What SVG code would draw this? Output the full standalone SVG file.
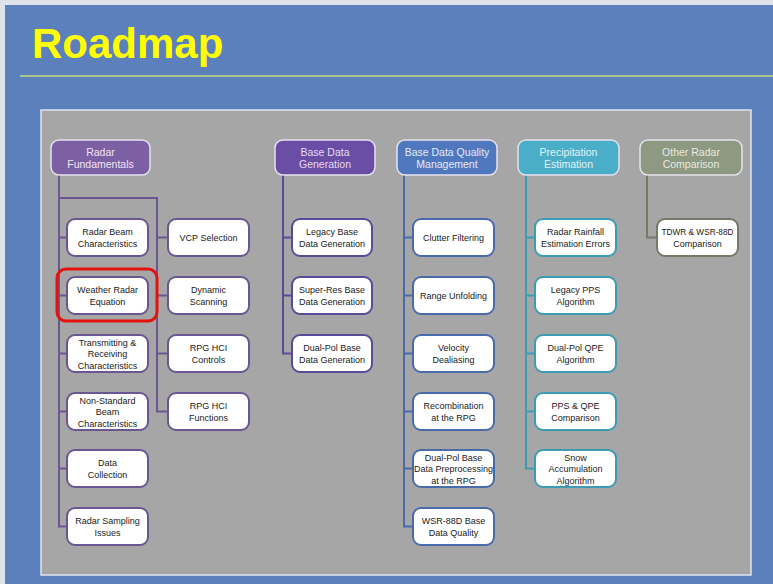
<svg xmlns="http://www.w3.org/2000/svg" width="773" height="584" viewBox="0 0 773 584">
<style>
.hdr{stroke:#e6e2ee;stroke-width:1.5}
.ht{font-family:"Liberation Sans",Arial,sans-serif;font-size:10.5px;text-anchor:middle}
.box{fill:#ffffff;stroke-width:2}
.t{font-family:"Liberation Sans",Arial,sans-serif;font-size:9px;fill:#1a1a1a;text-anchor:middle}
.c{fill:none;stroke-width:2}
.p1{stroke:#6a5690}.p2{stroke:#5a4a98}.p3{stroke:#4a6bab}.p4{stroke:#3d9bb3}.p5{stroke:#717b68}
</style>
<rect x="0" y="0" width="773" height="584" fill="#dfe3ea"/>
<rect x="5" y="5" width="768" height="579" fill="#5b80bb"/>
<text x="32" y="58" font-family="Liberation Sans,Arial,sans-serif" font-size="42" font-weight="bold" fill="#ffff00">Roadmap</text>
<line x1="20" y1="76" x2="773" y2="76" stroke="#a9c48a" stroke-width="2"/>
<rect x="41" y="110" width="710" height="465" fill="#a6a6a6" stroke="#dfe5f0" stroke-width="1.5"/>

<g id="connectors">
<path class="c p1" d="M59 175V526.5H67M59 237.5H67M59 295.5H67M59 353.5H67M59 411.5H67M59 468.5H67M59 198H157V411.5H168M157 237.5H168M157 295.5H168M157 353.5H168"/>
<path class="c p2" d="M283 175V353.5H292M283 237.5H292M283 295.5H292"/>
<path class="c p3" d="M404 175V526.5H413M404 237.5H413M404 295.5H413M404 353.5H413M404 411.5H413M404 468.5H413"/>
<path class="c p4" d="M526 175V468.5H535M526 237.5H535M526 295.5H535M526 353.5H535M526 411.5H535"/>
<path class="c p5" d="M647 175V237.5H657"/>
</g>

<g id="h1"><rect class="hdr" x="51" y="140" width="99" height="35" rx="8" fill="#7d5fa3"/><text class="ht" fill="#eee6f4"><tspan x="100.5" y="156">Radar</tspan><tspan x="100.5" y="168">Fundamentals</tspan></text></g>
<g id="h2"><rect class="hdr" x="275" y="140" width="100" height="35" rx="8" fill="#6a4ea6"/><text class="ht" fill="#e2dcf2"><tspan x="325" y="156">Base Data</tspan><tspan x="325" y="168">Generation</tspan></text></g>
<g id="h3"><rect class="hdr" x="397" y="140" width="100" height="35" rx="8" fill="#5078bf"/><text class="ht" fill="#e3eaf6"><tspan x="447" y="156">Base Data Quality</tspan><tspan x="447" y="168">Management</tspan></text></g>
<g id="h4"><rect class="hdr" x="518" y="140" width="101" height="35" rx="8" fill="#4aaec8"/><text class="ht" fill="#e2f3f7"><tspan x="568.5" y="156">Precipitation</tspan><tspan x="568.5" y="168">Estimation</tspan></text></g>
<g id="h5"><rect class="hdr" x="640" y="140" width="102" height="35" rx="8" fill="#8d9a81"/><text class="ht" fill="#e6e9e0"><tspan x="691" y="156">Other Radar</tspan><tspan x="691" y="168">Comparison</tspan></text></g>

<g id="n1a"><rect class="box p1" x="67" y="219" width="81" height="37" rx="8"/><text class="t"><tspan x="107.5" y="235">Radar Beam</tspan><tspan x="107.5" y="247">Characteristics</tspan></text></g>
<g id="n1b"><rect class="box p1" x="67" y="277" width="81" height="37" rx="8"/><text class="t"><tspan x="107.5" y="293">Weather Radar</tspan><tspan x="107.5" y="305">Equation</tspan></text></g>
<g id="n1c"><rect class="box p1" x="67" y="335" width="81" height="37" rx="8"/><text class="t"><tspan x="107.5" y="345.5">Transmitting &amp;</tspan><tspan x="107.5" y="357">Receiving</tspan><tspan x="107.5" y="368.5">Characteristics</tspan></text></g>
<g id="n1d"><rect class="box p1" x="67" y="393" width="81" height="37" rx="8"/><text class="t"><tspan x="107.5" y="403.5">Non-Standard</tspan><tspan x="107.5" y="415">Beam</tspan><tspan x="107.5" y="426.5">Characteristics</tspan></text></g>
<g id="n1e"><rect class="box p1" x="67" y="450" width="81" height="37" rx="8"/><text class="t"><tspan x="107.5" y="466">Data</tspan><tspan x="107.5" y="478">Collection</tspan></text></g>
<g id="n1f"><rect class="box p1" x="67" y="508" width="81" height="37" rx="8"/><text class="t"><tspan x="107.5" y="524">Radar Sampling</tspan><tspan x="107.5" y="536">Issues</tspan></text></g>
<g id="highlight"><rect x="57" y="269" width="100" height="52" rx="9" fill="none" stroke="#e3120f" stroke-width="3"/></g>

<g id="n1g"><rect class="box p1" x="168" y="219" width="81" height="37" rx="8"/><text class="t"><tspan x="208.5" y="241">VCP Selection</tspan></text></g>
<g id="n1h"><rect class="box p1" x="168" y="277" width="81" height="37" rx="8"/><text class="t"><tspan x="208.5" y="293">Dynamic</tspan><tspan x="208.5" y="305">Scanning</tspan></text></g>
<g id="n1i"><rect class="box p1" x="168" y="335" width="81" height="37" rx="8"/><text class="t"><tspan x="208.5" y="351">RPG HCI</tspan><tspan x="208.5" y="363">Controls</tspan></text></g>
<g id="n1j"><rect class="box p1" x="168" y="393" width="81" height="37" rx="8"/><text class="t"><tspan x="208.5" y="409">RPG HCI</tspan><tspan x="208.5" y="421">Functions</tspan></text></g>

<g id="n2a"><rect class="box p2" x="292" y="219" width="80" height="37" rx="8"/><text class="t"><tspan x="332" y="235">Legacy Base</tspan><tspan x="332" y="247">Data Generation</tspan></text></g>
<g id="n2b"><rect class="box p2" x="292" y="277" width="80" height="37" rx="8"/><text class="t"><tspan x="332" y="293">Super-Res Base</tspan><tspan x="332" y="305">Data Generation</tspan></text></g>
<g id="n2c"><rect class="box p2" x="292" y="335" width="80" height="37" rx="8"/><text class="t"><tspan x="332" y="351">Dual-Pol Base</tspan><tspan x="332" y="363">Data Generation</tspan></text></g>

<g id="n3a"><rect class="box p3" x="413" y="219" width="81" height="37" rx="8"/><text class="t"><tspan x="453.5" y="241">Clutter Filtering</tspan></text></g>
<g id="n3b"><rect class="box p3" x="413" y="277" width="81" height="37" rx="8"/><text class="t"><tspan x="453.5" y="299">Range Unfolding</tspan></text></g>
<g id="n3c"><rect class="box p3" x="413" y="335" width="81" height="37" rx="8"/><text class="t"><tspan x="453.5" y="351">Velocity</tspan><tspan x="453.5" y="363">Dealiasing</tspan></text></g>
<g id="n3d"><rect class="box p3" x="413" y="393" width="81" height="37" rx="8"/><text class="t"><tspan x="453.5" y="409">Recombination</tspan><tspan x="453.5" y="421">at the RPG</tspan></text></g>
<g id="n3e"><rect class="box p3" x="413" y="450" width="81" height="37" rx="8"/><text class="t"><tspan x="453.5" y="460.5">Dual-Pol Base</tspan><tspan x="453.5" y="472">Data Preprocessing</tspan><tspan x="453.5" y="483.5">at the RPG</tspan></text></g>
<g id="n3f"><rect class="box p3" x="413" y="508" width="81" height="37" rx="8"/><text class="t"><tspan x="453.5" y="524">WSR-88D Base</tspan><tspan x="453.5" y="536">Data Quality</tspan></text></g>

<g id="n4a"><rect class="box p4" x="535" y="219" width="81" height="37" rx="8"/><text class="t"><tspan x="575.5" y="235">Radar Rainfall</tspan><tspan x="575.5" y="247">Estimation Errors</tspan></text></g>
<g id="n4b"><rect class="box p4" x="535" y="277" width="81" height="37" rx="8"/><text class="t"><tspan x="575.5" y="293">Legacy PPS</tspan><tspan x="575.5" y="305">Algorithm</tspan></text></g>
<g id="n4c"><rect class="box p4" x="535" y="335" width="81" height="37" rx="8"/><text class="t"><tspan x="575.5" y="351">Dual-Pol QPE</tspan><tspan x="575.5" y="363">Algorithm</tspan></text></g>
<g id="n4d"><rect class="box p4" x="535" y="393" width="81" height="37" rx="8"/><text class="t"><tspan x="575.5" y="409">PPS &amp; QPE</tspan><tspan x="575.5" y="421">Comparison</tspan></text></g>
<g id="n4e"><rect class="box p4" x="535" y="450" width="81" height="37" rx="8"/><text class="t"><tspan x="575.5" y="460.5">Snow</tspan><tspan x="575.5" y="472">Accumulation</tspan><tspan x="575.5" y="483.5">Algorithm</tspan></text></g>

<g id="n5a"><rect class="box p5" x="657" y="219" width="81" height="37" rx="8"/><text class="t"><tspan x="697.5" y="235" textLength="72" lengthAdjust="spacingAndGlyphs">TDWR &amp; WSR-88D</tspan><tspan x="697.5" y="247">Comparison</tspan></text></g>
</svg>
